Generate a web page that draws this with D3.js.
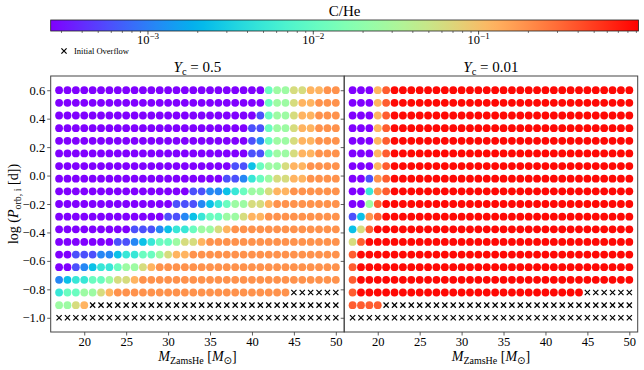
<!DOCTYPE html>
<html><head><meta charset="utf-8">
<script src="https://cdn.jsdelivr.net/npm/d3@7"></script>
<style>body{margin:0;background:#fff} text{font-family:"Liberation Serif","DejaVu Serif",serif;fill:#000}</style>
</head><body><svg id="c" width="644" height="370"></svg>
<script>
// ---------- data ----------
const masses = [17,18,19,20,21,22,23,24,25,26,27,28,29,30,31,32,33,34,35,36,37,38,39,40,41,42,43,44,45,46,47,48,49,50];
// rows from top (0.6) to bottom (-1.0)
const logPorb = [0.6,0.5111,0.4222,0.3333,0.2444,0.1556,0.0667,-0.0222,-0.1111,-0.2,-0.2889,-0.3778,-0.4667,-0.5556,-0.6444,-0.7333,-0.8222,-0.9111,-1.0];
// cell codes -> C/He value ; 'x' = initial overflow
const levelCodes  = ["a","b","c","d","e","f","g","h","i","j","k","l"];
const levelValues = [2.0e-4,5.9e-4,1.1e-3,2.4e-3,4.9e-3,0.011,0.025,0.062,0.12,0.19,0.35,0.85];
// run-length rows (count+code), one entry per orbital-period row, masses 17..50
const rowsYc05 = [
"25a f 2g 2h 2i 2j",
"25a f 2g h 2i 3j",
"24a b f 2g h 2i 3j",
"23a 2b f 2g h 2i 3j",
"23a b c f 2g h 2i 3j",
"23a 2b f 2g h 2i 3j",
"21a 2b d f 2g h 2i 4j",
"20a 2b c e f g 2h 2i 4j",
"16a 2b 2c d e f 2g h 2i 6j",
"14a 3b c d e f 2g 2h i 8j",
"13a 2b c d e 2f 2g h 2i 9j",
"9a 3b c d 2e f 2g h i 13j",
"7a 2b c d e 2f g 2h i 16j",
"2a 3b 2c d 2e 2f g h 2i 18j",
"2a b c d 2e f 2g h i 22j",
"c d 2e 2f g 2h i 24j",
"e 2f 2g h i 21j 6x",
"2g h i 30x",
"34x"];
const rowsYc001 = [
"3a i k 29l",
"3a i k 29l",
"3a i k 29l",
"3a i k 29l",
"3a i k 29l",
"3a i k 29l",
"3a i k 29l",
"2a b j k 29l",
"2a e j k 29l",
"2a g k 30l",
"b d j k 30l",
"d h k 31l",
"h k 32l",
"k 33l",
"k 33l",
"k 33l",
"k 27l 6x",
"4k 30x",
"34x"];
const panelYc = ["0.5","0.01"];
const xTicks = [20,25,30,35,40,45,50];
const yTicks = [0.6,0.4,0.2,0.0,-0.2,-0.4,-0.6,-0.8,-1.0];
const cbarMajor = [1e-3,1e-2,1e-1];
const cbarMinor = [3e-4,4e-4,5e-4,6e-4,7e-4,8e-4,9e-4,2e-3,3e-3,4e-3,5e-3,6e-3,7e-3,8e-3,9e-3,2e-2,3e-2,4e-2,5e-2,6e-2,7e-2,8e-2,9e-2,2e-1,3e-1,4e-1,5e-1,6e-1,7e-1,8e-1,9e-1];
const cbarDomain = [2.58e-4, 0.927];

// ---------- helpers ----------
function rainbow(t){
  t = Math.max(0, Math.min(1, t));
  const cl = v => Math.round(255*Math.max(0, Math.min(1, v)));
  return d3.rgb(cl(Math.abs(2*t-0.5)), cl(Math.sin(Math.PI*t)), cl(Math.cos(Math.PI*t/2))).formatHex();
}
function expandRow(s){
  const out = [];
  s.trim().split(/\s+/).forEach(tok => {
    const m = tok.match(/^(\d*)([a-z])$/);
    const n = m[1] ? +m[1] : 1;
    for (let k = 0; k < n; k++) out.push(m[2]);
  });
  return out;
}
function crossPath(cx, cy, s){
  return `M${cx-s},${cy-s}L${cx+s},${cy+s}M${cx-s},${cy+s}L${cx+s},${cy-s}`;
}
const svg = d3.select("#c");
const cScale = d3.scaleLog().domain(cbarDomain).range([0,1]).clamp(true);
const valueOf = code => levelValues[levelCodes.indexOf(code)];

// ---------- colorbar ----------
const cbX0 = 50.7, cbX1 = 638.5, cbY0 = 20, cbY1 = 31;
const cbx = d3.scaleLog().domain(cbarDomain).range([cbX0, cbX1]);
const grad = svg.append("defs").append("linearGradient").attr("id","g");
d3.range(0, 1.0001, 0.02).forEach(t => grad.append("stop").attr("offset", t).attr("stop-color", rainbow(t)));
svg.append("rect").attr("x",cbX0).attr("y",cbY0).attr("width",cbX1-cbX0).attr("height",cbY1-cbY0)
  .attr("fill","url(#g)").attr("stroke","#222").attr("stroke-width",0.8);
svg.selectAll(".cmin").data(cbarMinor).join("line")
  .attr("x1",d=>cbx(d)).attr("x2",d=>cbx(d)).attr("y1",cbY1).attr("y2",cbY1+2)
  .attr("stroke","#222").attr("stroke-width",0.6);
svg.selectAll(".cmaj").data(cbarMajor).join("line")
  .attr("x1",d=>cbx(d)).attr("x2",d=>cbx(d)).attr("y1",cbY1).attr("y2",cbY1+3.5)
  .attr("stroke","#222").attr("stroke-width",0.8);
cbarMajor.forEach(v => {
  const t = svg.append("text").attr("x", cbx(v)).attr("y", 44).attr("text-anchor","middle").attr("font-size",12.5);
  t.append("tspan").text("10");
  t.append("tspan").attr("dy",-5).attr("font-size",9).text("\u2212" + Math.round(-Math.log10(v)));
});
svg.append("text").attr("x",(cbX0+cbX1)/2).attr("y",16).attr("text-anchor","middle").attr("font-size",15).text("C/He");

// legend
svg.append("path").attr("d", crossPath(64, 51, 2.6)).attr("stroke","#000").attr("stroke-width",1.2);
svg.append("text").attr("x",74).attr("y",54).attr("font-size",8.5).text("Initial Overflow");

// ---------- panels ----------
const plotTop = 76, plotBottom = 332;
const panels = [{x0:50.7, x1:344.2, rows: rowsYc05}, {x0:344.2, x1:637.7, rows: rowsYc001}];
const y = d3.scaleLinear().domain([-1.1, 0.7]).range([plotBottom, plotTop]);

panels.forEach((p, pi) => {
  const x = d3.scaleLinear().domain([16, 51]).range([p.x0, p.x1]);
  const g = svg.append("g");
  const cells = [];
  p.rows.forEach((row, ri) => {
    expandRow(row).forEach((ch, ci) => { if (ci < masses.length) cells.push({m: masses[ci], lp: logPorb[ri], code: ch}); });
  });
  g.selectAll("circle").data(cells.filter(d => d.code !== "x")).join("circle")
    .attr("cx", d => x(d.m)).attr("cy", d => y(d.lp)).attr("r", 3.9)
    .attr("fill", d => rainbow(cScale(valueOf(d.code))));
  g.selectAll("path.cross").data(cells.filter(d => d.code === "x")).join("path")
    .attr("d", d => crossPath(x(d.m), y(d.lp), 2.6))
    .attr("stroke","#000").attr("stroke-width",1.2);

  const xa = g.append("g").attr("transform",`translate(0,${plotBottom})`)
    .call(d3.axisBottom(x).tickValues(xTicks).tickSize(3.5).tickPadding(1.5).tickFormat(d3.format("d")));
  const ya = g.append("g").attr("transform",`translate(${p.x0},0)`)
    .call(d3.axisLeft(y).tickValues(yTicks).tickSize(3.5).tickPadding(2)
      .tickFormat(pi === 0 ? (d => d3.format(".1f")(d).replace("-","\u2212")) : () => ""));
  [xa, ya].forEach(a => {
    a.select(".domain").remove();
    a.selectAll("line").attr("stroke","#333").attr("stroke-width",0.8);
    a.selectAll("text").attr("font-size",12.5).attr("font-family","Liberation Serif").attr("fill","#000");
  });
  g.append("rect").attr("x",p.x0).attr("y",plotTop).attr("width",p.x1-p.x0).attr("height",plotBottom-plotTop)
    .attr("fill","none").attr("stroke","#444").attr("stroke-width",1);

  const cx = (p.x0 + p.x1)/2;
  const tt = svg.append("text").attr("x",cx).attr("y",72).attr("text-anchor","middle").attr("font-size",15);
  tt.append("tspan").attr("font-style","italic").text("Y");
  tt.append("tspan").attr("font-size",10.5).attr("dy",3).text("c");
  tt.append("tspan").attr("dy",-3).text(" = " + panelYc[pi]);

  const xl = svg.append("text").attr("x",cx).attr("y",361).attr("text-anchor","middle").attr("font-size",14);
  xl.append("tspan").attr("font-style","italic").text("M");
  xl.append("tspan").attr("font-size",10).attr("dy",3).text("ZamsHe");
  xl.append("tspan").attr("dy",-3).text(" [");
  xl.append("tspan").attr("font-style","italic").text("M");
  xl.append("tspan").attr("font-size",10).attr("dy",3).attr("font-family","DejaVu Sans").text("\u2299");
  xl.append("tspan").attr("dy",-3).text("]");
});

const yl = svg.append("text").attr("transform",`translate(18,${(plotTop+plotBottom)/2}) rotate(-90)`)
  .attr("text-anchor","middle").attr("font-size",14);
yl.append("tspan").text("log (");
yl.append("tspan").attr("font-style","italic").text("P");
yl.append("tspan").attr("font-size",10).attr("dy",3).text("orb, i");
yl.append("tspan").attr("dy",-3).text(" [d])");
</script></body></html>
